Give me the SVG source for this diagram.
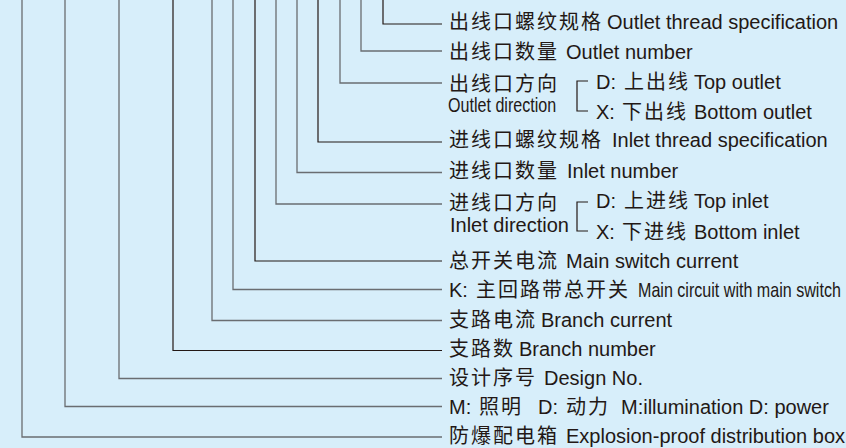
<svg xmlns="http://www.w3.org/2000/svg" width="846" height="448" viewBox="0 0 846 448">
<style>
.bg{fill:#d7eefa}
.ln{fill:none;stroke:#6a6d71;stroke-width:1.3}
.dk{stroke:#231815;stroke-width:1.2}
.br{fill:none;stroke:#231815;stroke-width:1.2}
text{font-family:"Liberation Sans","Noto Sans CJK SC",sans-serif;font-size:20px;fill:#231815}
.cn{font-family:"Noto Sans CJK SC","Liberation Sans",sans-serif;letter-spacing:2px}
.nar{font-size:16.1px}
</style>
<rect class="bg" x="0" y="0" width="846" height="448"/>
<g id="connectors">
<path class="ln dk" d="M383,0V24H442"/>
<path class="ln" d="M361,0V51H442"/>
<path class="ln" d="M340,0V83H442"/>
<path class="ln dk" d="M318,0V142H442"/>
<path class="ln" d="M297,0V172.5H442"/>
<path class="ln" d="M276,0V204H442"/>
<path class="ln dk" d="M255,0V261H442"/>
<path class="ln" d="M233,0V289.5H442"/>
<path class="ln" d="M212,0V320.5H442"/>
<path class="ln dk" d="M173,0V350.5H442"/>
<path class="ln" d="M119,0V378.5H442"/>
<path class="ln" d="M65,0V406.5H442"/>
<path class="ln" d="M22,0V437H442"/>
<path class="br" d="M588,81H577V111H588"/>
<path class="br" d="M588,202H577V231H588"/>
</g>
<g id="outlet-thread"><text y="29"><tspan class="cn" x="449">出线口螺纹规格</tspan><tspan x="607">Outlet thread specification</tspan></text></g>
<g id="outlet-number"><text y="59"><tspan class="cn" x="449">出线口数量</tspan><tspan x="566">Outlet number</tspan></text></g>
<g id="outlet-direction">
<text y="91"><tspan class="cn" x="449">出线口方向</tspan></text>
<text class="nar" transform="translate(448,112) scale(1,1.2)" x="0" y="0">Outlet direction</text>
<text y="89"><tspan x="596">D:</tspan><tspan class="cn" x="624">上出线</tspan><tspan x="694">Top outlet</tspan></text>
<text y="119"><tspan x="596">X:</tspan><tspan class="cn" x="622">下出线</tspan><tspan x="694">Bottom outlet</tspan></text>
</g>
<g id="inlet-thread"><text y="147"><tspan class="cn" x="449">进线口螺纹规格</tspan><tspan x="612">Inlet thread specification</tspan></text></g>
<g id="inlet-number"><text y="178"><tspan class="cn" x="449">进线口数量</tspan><tspan x="567">Inlet number</tspan></text></g>
<g id="inlet-direction">
<text y="210"><tspan class="cn" x="449">进线口方向</tspan></text>
<text x="450" y="232">Inlet direction</text>
<text y="208"><tspan x="596">D:</tspan><tspan class="cn" x="624">上进线</tspan><tspan x="694">Top inlet</tspan></text>
<text y="239"><tspan x="596">X:</tspan><tspan class="cn" x="622">下进线</tspan><tspan x="694">Bottom inlet</tspan></text>
</g>
<g id="main-switch-current"><text y="268"><tspan class="cn" x="449">总开关电流</tspan><tspan x="566">Main switch current</tspan></text></g>
<g id="main-circuit"><text y="297"><tspan x="449">K:</tspan><tspan class="cn" x="476">主回路带总开关</tspan></text><text class="nar" transform="translate(638,297) scale(1,1.2)" x="0" y="0">Main circuit with main switch</text></g>
<g id="branch-current"><text y="327"><tspan class="cn" x="449">支路电流</tspan><tspan x="541">Branch current</tspan></text></g>
<g id="branch-number"><text y="356"><tspan class="cn" x="449">支路数</tspan><tspan x="519">Branch number</tspan></text></g>
<g id="design-no"><text y="385"><tspan class="cn" x="449">设计序号</tspan><tspan x="544">Design No.</tspan></text></g>
<g id="type"><text y="414"><tspan x="449">M:</tspan><tspan class="cn" x="479">照明</tspan><tspan x="538">D:</tspan><tspan class="cn" x="566">动力</tspan><tspan x="621">M:illumination D: power</tspan></text></g>
<g id="box"><text y="443"><tspan class="cn" x="449">防爆配电箱</tspan><tspan x="566">Explosion-proof distribution box</tspan></text></g>
</svg>
